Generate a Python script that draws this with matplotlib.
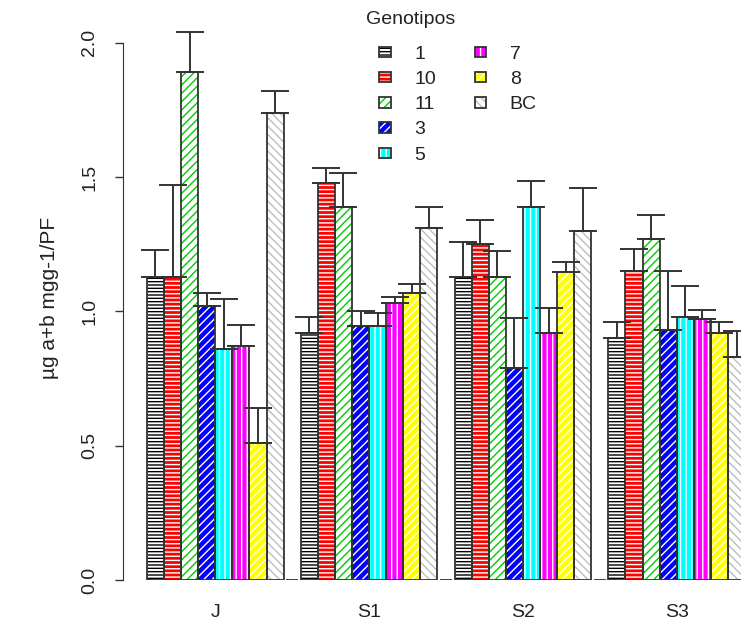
import numpy as np
import matplotlib.pyplot as plt
from matplotlib.patches import Rectangle

plt.rcParams['font.family'] = ['Liberation Sans', 'DejaVu Sans']
plt.rcParams['hatch.linewidth'] = 1.0

grupos = ['J', 'S1', 'S2', 'S3']
genotipos = ['1', '10', '11', '3', '5', '7', '8', 'BC']
cores = ['black', 'red', '#00CD00', 'blue', 'cyan', 'magenta', 'yellow', '#BEBEBE']

# medias (linhas = grupos, colunas = genotipos)
medias = np.array([
    [1.13, 1.13, 1.89, 1.02, 0.86, 0.87, 0.51, 1.74],
    [0.92, 1.48, 1.39, 0.945, 0.945, 1.03, 1.07, 1.31],
    [1.13, 1.25, 1.13, 0.79, 1.39, 0.92, 1.145, 1.30],
    [0.90, 1.15, 1.27, 0.93, 0.98, 0.97, 0.92, 0.83],
])
# erro padrao (so para cima)
erros = np.array([
    [0.10, 0.34, 0.15, 0.05, 0.185, 0.08, 0.13, 0.08],
    [0.06, 0.055, 0.125, 0.055, 0.05, 0.022, 0.032, 0.078],
    [0.13, 0.09, 0.095, 0.185, 0.095, 0.092, 0.038, 0.16],
    [0.06, 0.082, 0.09, 0.22, 0.116, 0.036, 0.04, 0.096],
])

# estilo de preenchimento: (fundo, cor das linhas, hachura)
estilos = [
    ('white', cores[0], '-----'),
    (cores[1], 'white', '----'),
    ('white', cores[2], '////'),
    (cores[3], 'white', '////'),
    (cores[4], 'white', '|||'),
    (cores[5], 'white', '|||'),
    (cores[6], 'white', '////'),
    ('white', cores[7], '\\\\\\\\'),
]

fig = plt.figure(figsize=(7.41, 6.23), dpi=100)
ax = fig.add_axes([123 / 741, 43 / 623, 646 / 741, 564 / 623])

n_gen = len(genotipos)
passo = n_gen + 1
base = np.arange(len(grupos)) * passo + 1.5
handles = []
for k in range(n_gen):
    x = base + k
    fc, hc, h = estilos[k]
    b1 = ax.bar(x, medias[:, k], width=1, color=fc, edgecolor=hc, hatch=h, lw=0, zorder=2)
    b2 = ax.bar(x, medias[:, k], width=1, fill=False, edgecolor='#333333', lw=1.3, zorder=3)
    handles.append((b1[0], b2[0]))

for k in range(n_gen):
    x = base + k
    ax.errorbar(x, medias[:, k], yerr=[np.zeros(len(grupos)), erros[:, k]], fmt='none',
                ecolor='#333333', elinewidth=1.4, capsize=10, capthick=1.4, zorder=4)

# tracinhos na base entre os grupos
gaps = np.arange(1, len(grupos)) * passo + 0.5
ax.hlines(np.zeros(len(gaps)), gaps - 0.35, gaps + 0.35, color='#333333', lw=1.3, zorder=4)

ax.set_xlim(-0.4, 37.4)
ax.set_ylim(0, 2.1)
for s in ['top', 'right', 'bottom']:
    ax.spines[s].set_visible(False)
ax.spines['left'].set_bounds(0, 2)
ax.spines['left'].set_color('#333333')

ax.set_yticks([0, 0.5, 1.0, 1.5, 2.0])
ax.set_yticklabels(['0.0', '0.5', '1.0', '1.5', '2.0'], rotation=90, va='center')
ax.tick_params(axis='y', length=6, width=1, color='#333333', labelsize=14, pad=12, labelcolor='#222222')
ax.set_xticks(base + (n_gen - 1) / 2)
ax.set_xticklabels(grupos)
ax.tick_params(axis='x', length=0, labelsize=14, pad=17, labelcolor='#222222')
ax.set_ylabel('µg a+b mgg-1/PF', fontsize=15, color='#222222', labelpad=16)

vazio = Rectangle((0, 0), 0, 0, fc='none', ec='none')
leg = ax.legend(handles + [vazio], genotipos + [''], ncol=2, frameon=False,
                loc='upper left', bbox_to_anchor=(379 / 741, 1 - 46 / 623),
                bbox_transform=fig.transFigure, fontsize=14,
                handlelength=0.6, handleheight=0.45, handletextpad=1.2,
                labelspacing=0.42, columnspacing=2.0, borderpad=0, borderaxespad=0)
for t in leg.get_texts():
    t.set_color('#222222')
fig.text(411 / 741, 1 - 20 / 623, 'Genotipos', ha='center', va='center', fontsize=14, color='#222222')

fig.savefig('out.png', dpi=100)
